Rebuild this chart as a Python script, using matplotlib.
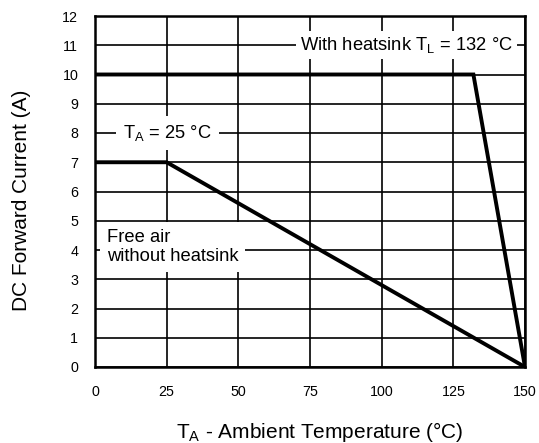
import matplotlib
matplotlib.use("Agg")
import matplotlib.pyplot as plt

plt.rcParams['font.family'] = ['Liberation Sans', 'DejaVu Sans']

# Data
free_air_x = [0, 25, 150]
free_air_y = [7, 7, 0]
heatsink_x = [0, 132, 150]
heatsink_y = [10, 10, 0]
x_ticks = [0, 25, 50, 75, 100, 125, 150]
y_ticks = list(range(0, 13))

fig = plt.figure(figsize=(5.39, 4.43), dpi=100)
ax = fig.add_axes([95/539, 1-367/443, (525-95)/539, (367-16)/443])

ax.set_xlim(0, 150)
ax.set_ylim(0, 12)
ax.set_xticks(x_ticks)
ax.set_yticks(y_ticks)
ax.grid(True, color='black', linewidth=1.2, zorder=1)
ax.set_axisbelow(True)
ax.tick_params(axis='x', length=0, labelsize=10.3, pad=13)
ax.tick_params(axis='y', length=0, labelsize=10.3, pad=12)
for s in ax.spines.values():
    s.set_linewidth(1.8)
    s.set_zorder(5)

ax.plot(heatsink_x, heatsink_y, color='black', linewidth=2.8, zorder=4, solid_joinstyle='miter')
ax.plot(free_air_x, free_air_y, color='black', linewidth=2.8, zorder=4, solid_joinstyle='miter')

ax.text(71.6, 11, r'With heatsink T$_\mathregular{L}$ = 132 °C', fontsize=13.2, ha='left', va='center',
        bbox=dict(facecolor='white', edgecolor='none', pad=3), zorder=3)
ax.text(9.7, 8, r'T$_\mathregular{A}$ = 25 °C', fontsize=13.2, ha='left', va='center',
        bbox=dict(facecolor='white', edgecolor='none', pad=5), zorder=3)
ax.text(4.1, 4.1, 'Free air\nwithout heatsink', fontsize=13.2, ha='left', va='center',
        bbox=dict(facecolor='white', edgecolor='none', pad=5), zorder=3, linespacing=1.15)

ax.set_xlabel(r'T$_\mathregular{A}$ - Ambient Temperature (°C)', fontsize=15)
ax.xaxis.label.set_va('baseline')
ax.xaxis.set_label_coords(0.522, -0.2023)
ax.set_ylabel('DC Forward Current (A)', fontsize=15)
ax.yaxis.label.set_va('baseline')
ax.yaxis.set_label_coords(-0.158, 0.474)

fig.savefig('out.png', dpi=100)
